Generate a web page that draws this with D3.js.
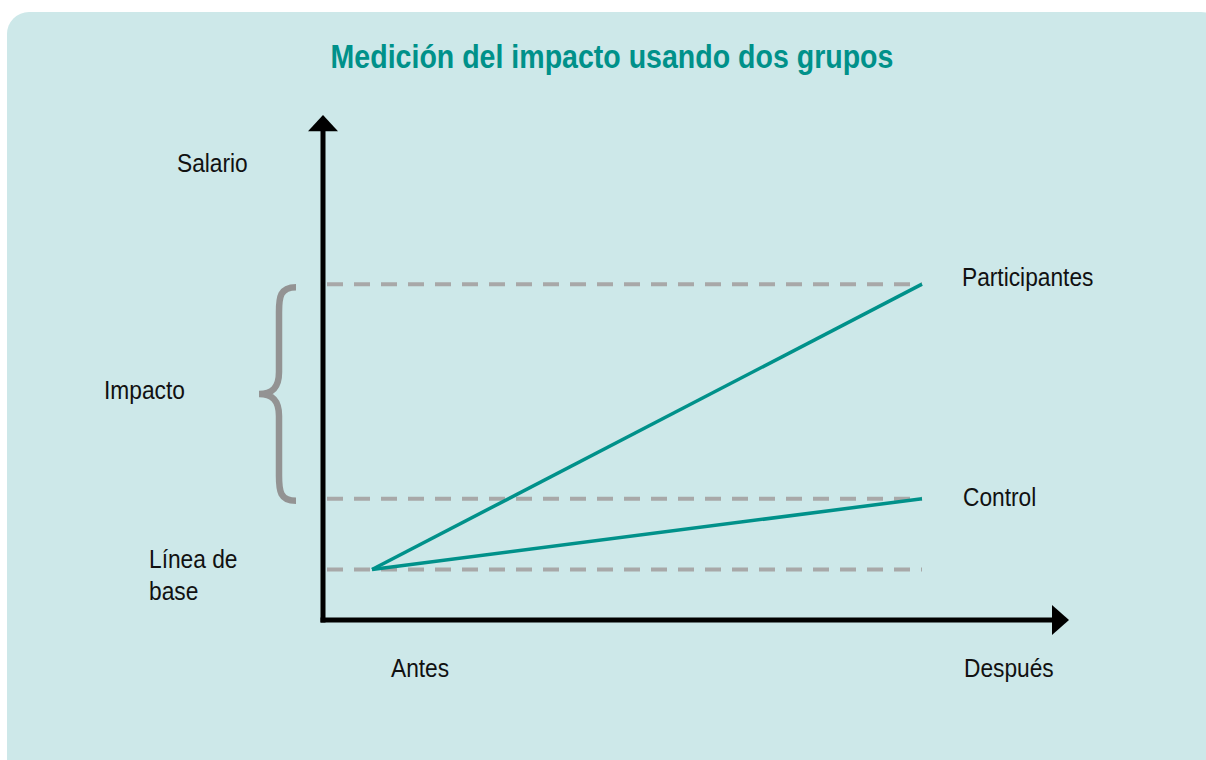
<!DOCTYPE html>
<html>
<head>
<meta charset="utf-8">
<script src="https://cdn.jsdelivr.net/npm/d3@7"></script>
<style>
  body { margin: 0; background: #fff; }
  text { font-family: "Liberation Sans", Arial, sans-serif; }
</style>
</head>
<body>
<div id="chart"></div>
<script>
// time points and salary levels (arbitrary units)
const periods = ["Antes", "Después"];
const baseline = [10, 10];
const control = [10, 24];
const participants = [10, 66.5];
const levelLabels = ["Participantes", "Control"];

const W = 1206, H = 760;
const teal = "#00918a";
const grey = "#a8a8a8";

const svg = d3.select("#chart").append("svg")
  .attr("width", W).attr("height", H);

svg.append("rect")
  .attr("x", 7).attr("y", 12)
  .attr("width", W + 10).attr("height", H + 10)
  .attr("rx", 22)
  .attr("fill", "#cde8e9");

// condensed look: Liberation Sans squeezed horizontally
svg.append("text")
  .attr("transform", "translate(612,68) scale(0.865,1)")
  .attr("text-anchor", "middle")
  .attr("fill", teal)
  .style("font-size", "33px")
  .style("font-weight", "bold")
  .text("Medición del impacto usando dos grupos");

const x = d3.scaleLinear().domain([0, 1]).range([372, 922]);
const y = d3.scaleLinear().domain([0, 100]).range([620, 115]);
const x0 = 323;

// dashed reference levels
[participants[1], control[1], baseline[0]].forEach(v => {
  svg.append("line")
    .attr("x1", x0 + 4).attr("x2", x(1))
    .attr("y1", y(v)).attr("y2", y(v))
    .attr("stroke", grey)
    .attr("stroke-width", 4)
    .attr("stroke-dasharray", "16,11");
});

// axes with arrows
svg.append("line")
  .attr("x1", x0).attr("x2", x0)
  .attr("y1", y(0) + 2.5).attr("y2", y(97))
  .attr("stroke", "#000").attr("stroke-width", 5);
svg.append("path")
  .attr("d", `M${x0 - 15},${y(96.8)} L${x0},${y(100)} L${x0 + 15},${y(96.8)} Z`)
  .attr("fill", "#000");

svg.append("line")
  .attr("x1", x0 - 2.5).attr("x2", 1054)
  .attr("y1", y(0)).attr("y2", y(0))
  .attr("stroke", "#000").attr("stroke-width", 5);
svg.append("path")
  .attr("d", `M1052,${y(0) - 15} L1069,${y(0)} L1052,${y(0) + 15} Z`)
  .attr("fill", "#000");

// series lines
const line = d3.line().x((d, i) => x(i)).y(d => y(d));
[participants, control].forEach(s => {
  svg.append("path")
    .datum(s)
    .attr("d", line)
    .attr("fill", "none")
    .attr("stroke", teal)
    .attr("stroke-width", 3.5);
});

// brace for impact
const bt = y(participants[1]) + 3, bb = y(control[1]) + 2, bm = (bt + bb) / 2;
svg.append("path")
  .attr("d", `M296,${bt} C280,${bt} 279,${bt + 10} 279,${bt + 25} L279,${bm - 22} C279,${bm - 6} 272,${bm} 259,${bm}
              C272,${bm} 279,${bm + 6} 279,${bm + 22} L279,${bb - 25} C279,${bb - 10} 280,${bb} 296,${bb}`)
  .attr("fill", "none")
  .attr("stroke", "#939393")
  .attr("stroke-width", 6.5);

const lab = (tx, ty, t) => svg.append("text")
  .attr("transform", `translate(${tx},${ty}) scale(0.875,1)`)
  .attr("fill", "#111")
  .style("font-size", "26px")
  .text(t);

lab(177, 172, "Salario");
lab(104, 399, "Impacto");
lab(149, 568, "Línea de");
lab(149, 600, "base");
lab(962, 286, levelLabels[0]);
lab(963, 506, levelLabels[1]);
lab(391, 677, periods[0]);
lab(964, 677, periods[1]);
</script>
</body>
</html>
